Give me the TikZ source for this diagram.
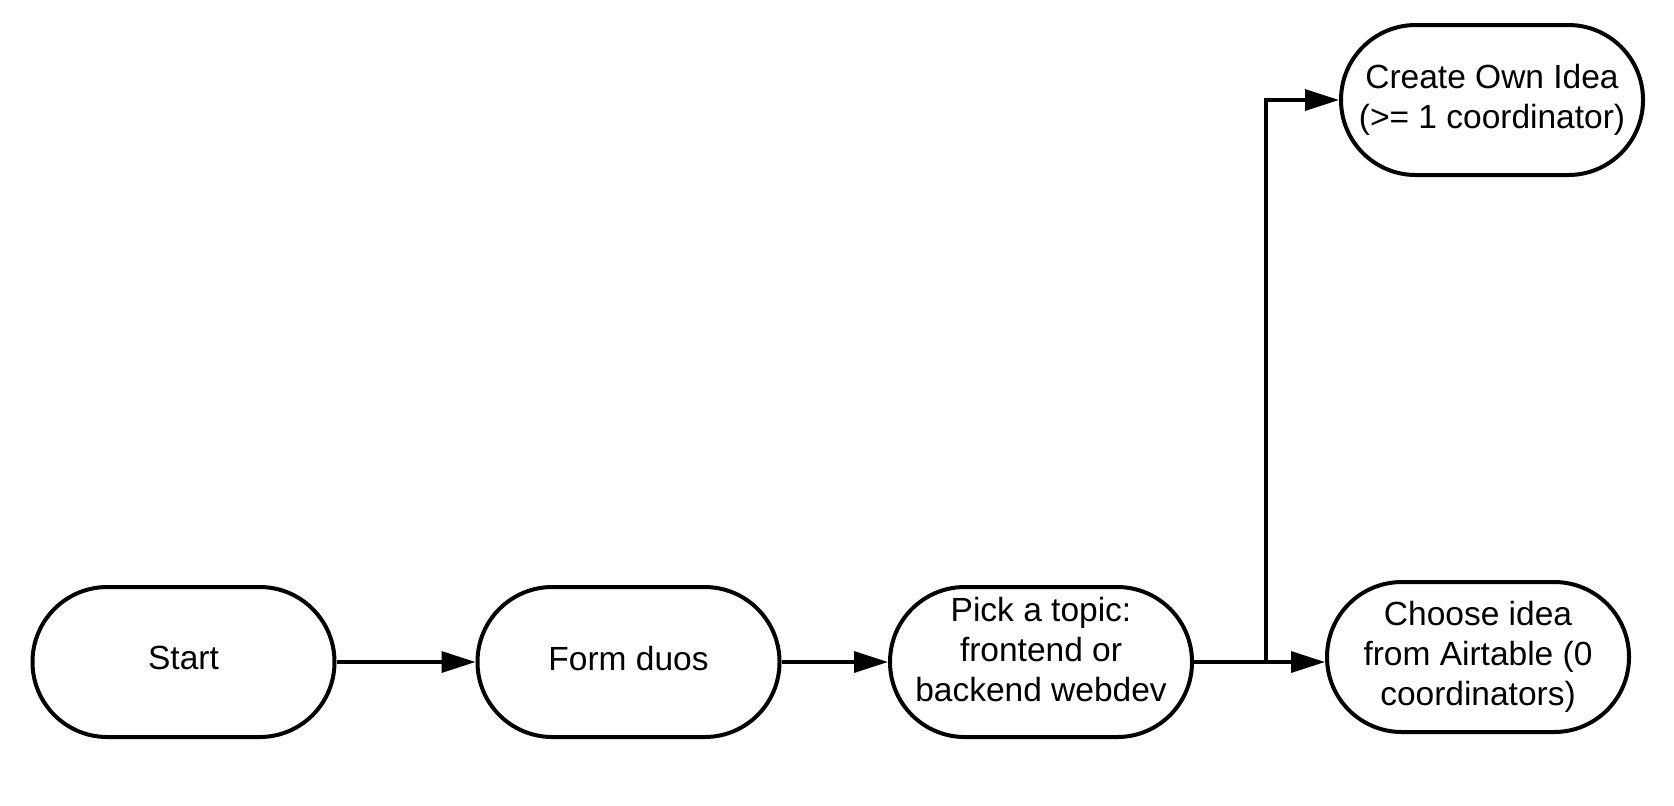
\documentclass[tikz,border=0pt]{standalone}
\usepackage{fontspec}
\setmainfont{Liberation Sans}
\usetikzlibrary{arrows.meta}
\begin{document}
\begin{tikzpicture}[x=0.5pt,y=-0.5pt,
  term/.style={draw=black, line width=2pt, rectangle, rounded corners=37.4pt,
    minimum width=151pt, minimum height=75pt, inner sep=0pt, align=center,
    font=\fontsize{16.75}{20}\selectfont},
  flow/.style={line width=1.7pt, -{Triangle[length=17pt,width=10.5pt]}}]
\useasboundingbox[fill=white] (0,0) rectangle (1674,805);
\node[term, text depth=4pt] (start) at (183.5,662) {Start};
\node[term, text depth=4pt] (duos) at (628.5,662) {Form duos};
\node[term, text depth=13pt] (pick) at (1041,662) {Pick a topic:\\frontend or\\backend webdev};
\node[term] (choose) at (1478,657) {Choose idea\\from Airtable (0\\coordinators)};
\node[term] (create) at (1492,100) {Create Own Idea\\(>= 1 coordinator)};
\coordinate (br) at (1266,662);
\draw[flow] (start.east) -- (duos.west);
\draw[flow] (duos.east) -- (pick.west);
\draw[flow] (pick.east) -- (pick.east -| choose.west);
\draw[flow] (br) |- (create.west);
\end{tikzpicture}
\end{document}
